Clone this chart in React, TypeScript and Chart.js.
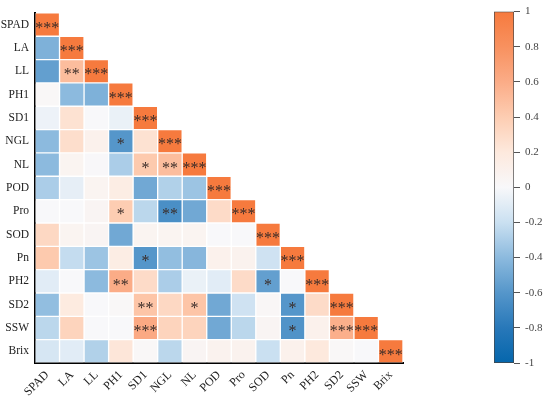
import React, { useEffect, useRef } from "react";
import { Chart, registerables } from "chart.js";

Chart.register(...registerables);

const variables = ["SPAD", "LA", "LL", "PH1", "SD1", "NGL", "NL", "POD", "Pro", "SOD", "Pn", "PH2", "SD2", "SSW", "Brix"];

// Lower-triangle correlation values (row i, columns 0..i-1); diagonal = 1
const corrRows: number[][] = [
  [],
  [-0.45],
  [-0.55, 0.5],
  [0.02, -0.4, -0.45],
  [-0.05, 0.25, 0.0, -0.06],
  [-0.4, 0.28, 0.1, -0.6, 0.25],
  [-0.4, 0.06, 0.01, -0.3, 0.42, 0.5],
  [-0.3, -0.08, 0.06, 0.15, -0.5, -0.28, -0.35],
  [0.0, 0.0, 0.05, 0.4, -0.25, -0.65, -0.5, 0.3],
  [0.32, 0.06, 0.05, -0.5, 0.06, 0.06, 0.06, 0.0, 0.0],
  [0.42, -0.22, -0.35, 0.15, -0.6, -0.38, -0.42, 0.1, 0.08, -0.18],
  [-0.1, 0.0, -0.4, 0.6, 0.3, -0.3, -0.06, -0.1, 0.3, -0.55, 0.0],
  [-0.38, 0.18, 0.0, 0.02, 0.45, 0.32, 0.45, -0.5, -0.18, 0.03, -0.6, 0.3],
  [-0.25, 0.35, 0.0, 0.0, 0.62, 0.35, 0.35, -0.5, -0.25, 0.05, -0.62, 0.1, 0.58],
  [-0.15, -0.1, -0.28, 0.22, 0.02, -0.25, 0.05, 0.08, 0.08, -0.2, 0.1, 0.2, 0.02, 0.0],
];

// Significance marks (row i, columns 0..i-1); diagonal = "***"
const sigRows: string[][] = [
  [],
  [""],
  ["", "**"],
  ["", "", ""],
  ["", "", "", ""],
  ["", "", "", "*", ""],
  ["", "", "", "", "*", "**"],
  ["", "", "", "", "", "", ""],
  ["", "", "", "*", "", "**", "", ""],
  ["", "", "", "", "", "", "", "", ""],
  ["", "", "", "", "*", "", "", "", "", ""],
  ["", "", "", "**", "", "", "", "", "", "*", ""],
  ["", "", "", "", "**", "", "*", "", "", "", "*", ""],
  ["", "", "", "", "***", "", "", "", "", "", "*", "", "***"],
  ["", "", "", "", "", "", "", "", "", "", "", "", "", ""],
];

const colorbarTicks = [1, 0.8, 0.6, 0.4, 0.2, 0, -0.2, -0.4, -0.6, -0.8, -1];

const colorStops: [number, number[]][] = [
  [-1, [5, 102, 172]],
  [-0.8, [40, 120, 185]],
  [-0.6, [85, 150, 202]],
  [-0.4, [140, 186, 222]],
  [-0.2, [202, 224, 241]],
  [0, [248, 248, 250]],
  [0.2, [253, 233, 221]],
  [0.4, [253, 205, 178]],
  [0.6, [251, 172, 135]],
  [0.8, [248, 145, 95]],
  [1, [246, 122, 62]],
];

function colorFor(v: number): string {
  for (let k = 0; k < colorStops.length - 1; k++) {
    const [a, ca] = colorStops[k];
    const [b, cb] = colorStops[k + 1];
    if (v >= a && v <= b) {
      const t = (v - a) / (b - a);
      const c = ca.map((x, idx) => Math.round(x + (cb[idx] - x) * t));
      return `rgb(${c[0]},${c[1]},${c[2]})`;
    }
  }
  return v < 0 ? "rgb(5,102,172)" : "rgb(246,122,62)";
}

const FONT = '"Liberation Serif", "DejaVu Serif", serif';

export default function App() {
  const mainRef = useRef<HTMLCanvasElement>(null);
  const cbRef = useRef<HTMLCanvasElement>(null);

  useEffect(() => {
    const n = variables.length;
    const datasets = variables.map((_, i) => {
      const data: ([number, number] | null)[] = [];
      const colors: string[] = [];
      for (let j = 0; j < n; j++) {
        if (j <= i) {
          data.push([i, i + 1]);
          const v = j === i ? 1 : corrRows[i][j];
          colors.push(colorFor(v));
        } else {
          data.push(null);
          colors.push("rgba(0,0,0,0)");
        }
      }
      return {
        label: variables[i],
        data,
        backgroundColor: colors,
        borderColor: "rgba(255,255,255,0.35)",
        borderWidth: 1,
        borderSkipped: false,
        grouped: false,
        barPercentage: 1,
        categoryPercentage: 1,
      };
    });

    const starPlugin = {
      id: "stars",
      afterDatasetsDraw(chart: any) {
        const ctx = chart.ctx;
        ctx.save();
        ctx.font = `16px ${FONT}`;
        ctx.fillStyle = "#3a2c28";
        ctx.textAlign = "center";
        ctx.textBaseline = "middle";
        for (let i = 0; i < n; i++) {
          const meta = chart.getDatasetMeta(i);
          for (let j = 0; j <= i; j++) {
            const s = j === i ? "***" : sigRows[i][j];
            if (!s) continue;
            const el = meta.data[j];
            if (!el) continue;
            const props = el.getProps(["x", "y", "base"], true);
            ctx.fillText(s, props.x, (props.y + props.base) / 2 + 4);
          }
        }
        ctx.restore();
      },
    };

    const main = new Chart(mainRef.current!, {
      type: "bar",
      data: { labels: variables, datasets: datasets as any },
      options: {
        responsive: false,
        animation: false,
        devicePixelRatio: 1,
        layout: { padding: { top: 7, right: 147, left: 0, bottom: 0 } },
        plugins: { legend: { display: false }, tooltip: { enabled: false } },
        scales: {
          x: {
            type: "category",
            offset: true,
            grid: { display: false, drawTicks: false },
            border: { display: true, color: "#000", width: 2 },
            ticks: {
              autoSkip: false,
              maxRotation: 45,
              minRotation: 45,
              padding: 5,
              color: "#222",
              font: { family: FONT, size: 12 },
            },
            afterFit: (s: any) => {
              s.height = 36;
            },
          },
          y: {
            type: "linear",
            min: 0,
            max: n,
            reverse: true,
            grid: { display: false, drawTicks: false },
            border: { display: true, color: "#000", width: 2 },
            afterBuildTicks: (s: any) => {
              s.ticks = variables.map((_, i) => ({ value: i + 0.5 }));
            },
            ticks: {
              autoSkip: false,
              padding: 6,
              color: "#222",
              font: { family: FONT, size: 11.5 },
              callback: (v: any) => variables[Math.floor(Number(v))],
            },
            afterFit: (s: any) => {
              s.width = 35;
            },
          },
        },
      },
      plugins: [starPlugin],
    });

    const cb = new Chart(cbRef.current!, {
      type: "bar",
      data: {
        labels: ["cb"],
        datasets: [
          {
            data: [[-1, 1]] as any,
            backgroundColor: (c: any) => {
              const area = c.chart.chartArea;
              if (!area) return "#fff";
              const g = c.chart.ctx.createLinearGradient(0, area.bottom, 0, area.top);
              colorStops.forEach(([v, col]) => {
                g.addColorStop((v + 1) / 2, `rgb(${col[0]},${col[1]},${col[2]})`);
              });
              return g;
            },
            borderColor: "#444",
            borderWidth: 1,
            borderSkipped: false,
            barPercentage: 1,
            categoryPercentage: 1,
          },
        ],
      },
      options: {
        responsive: false,
        animation: false,
        devicePixelRatio: 1,
        layout: { padding: { top: 7, bottom: 36, left: 14, right: 0 } },
        plugins: { legend: { display: false }, tooltip: { enabled: false } },
        scales: {
          x: { display: false },
          y: {
            position: "right",
            min: -1,
            max: 1,
            afterBuildTicks: (s: any) => {
              s.ticks = colorbarTicks.map((v) => ({ value: v }));
            },
            grid: { drawOnChartArea: false, drawTicks: true, tickLength: 6, color: "#555" },
            border: { display: false },
            ticks: {
              padding: 5,
              color: "#444",
              font: { family: FONT, size: 11 },
              callback: (v: any) => String(Number(Number(v).toFixed(1))),
            },
            afterFit: (s: any) => {
              s.width = 36;
            },
          },
        },
      },
    });

    return () => {
      main.destroy();
      cb.destroy();
    };
  }, []);

  return (
    <div style={{ position: "absolute", left: 0, top: 0, width: 550, height: 399, background: "#fff" }}>
      <canvas ref={mainRef} width={550} height={399} style={{ position: "absolute", left: 0, top: 0 }} />
      <canvas ref={cbRef} width={70} height={399} style={{ position: "absolute", left: 480, top: 0 }} />
    </div>
  );
}
